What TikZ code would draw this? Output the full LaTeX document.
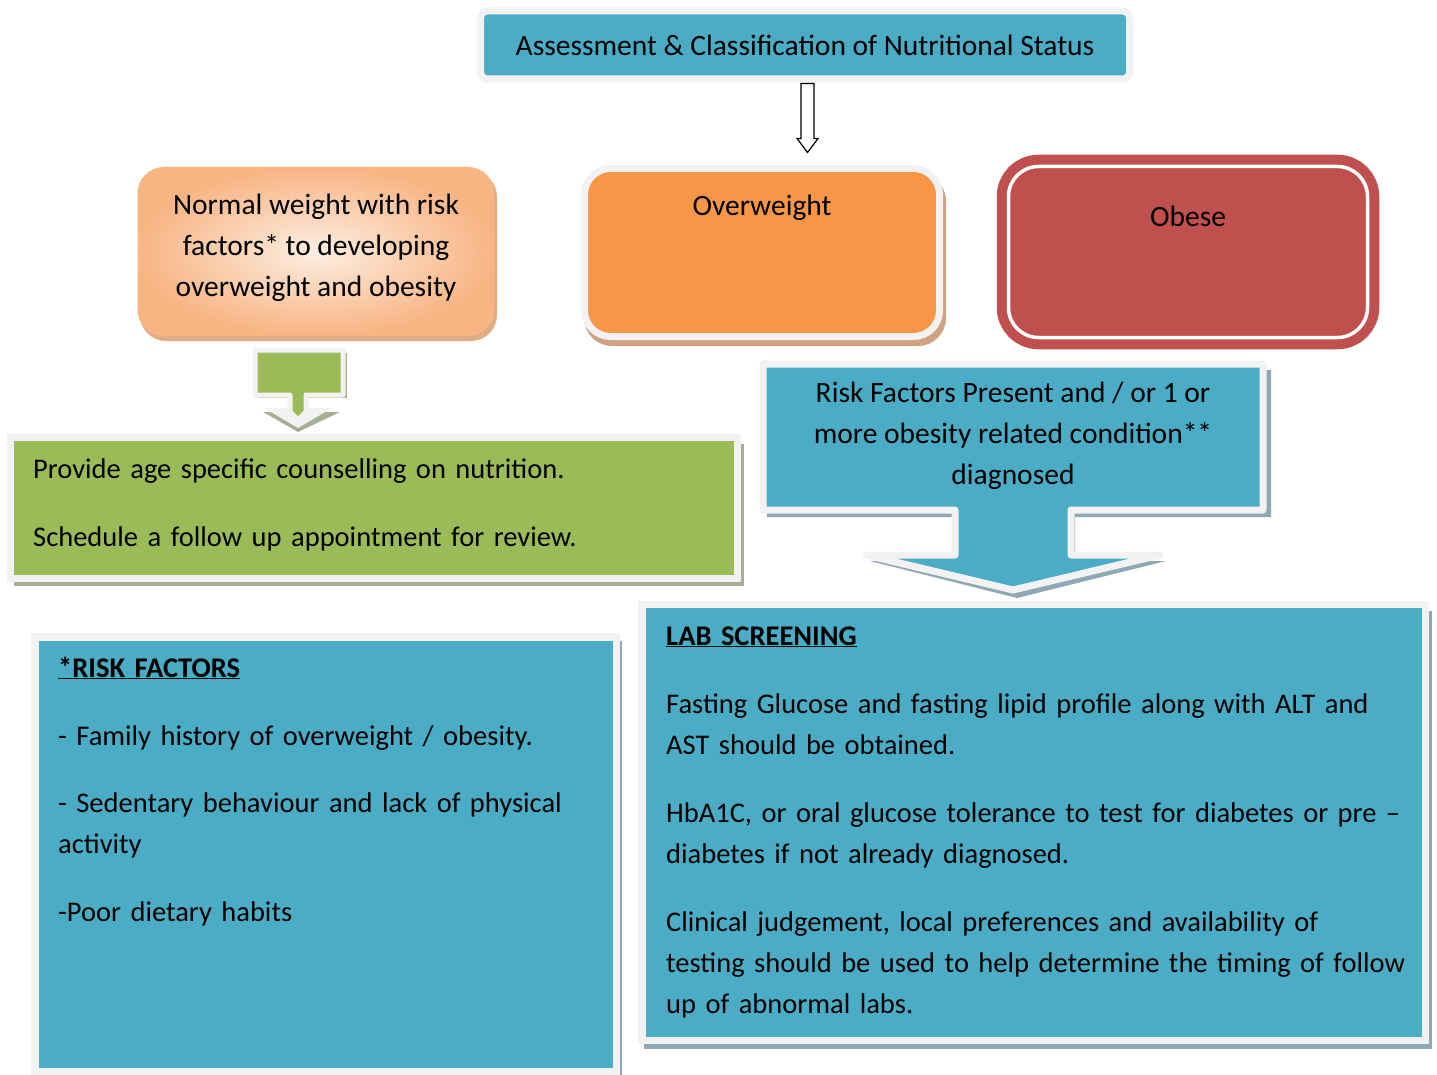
\documentclass[tikz,border=0pt]{standalone}
\usepackage{fontspec}
\setmainfont{Carlito}
\usetikzlibrary{calc}
\definecolor{cteal}{HTML}{4BACC6}
\definecolor{cgreen}{HTML}{9BBB59}
\definecolor{corange}{HTML}{F79646}
\definecolor{cred}{HTML}{C0504D}
\definecolor{cgray}{HTML}{F2F2F2}
\definecolor{cpeach}{HTML}{F8B584}
\definecolor{cpeachin}{HTML}{FDEEE2}
\definecolor{cpeachsh}{HTML}{E2AC82}
\definecolor{cowsh}{HTML}{CFA382}
\definecolor{cbluesh}{HTML}{8EA9B4}
\definecolor{cgreensh}{HTML}{A6AF93}
\begin{document}
\begin{tikzpicture}[x=1pt,y=-1pt,
  txt/.style={font=\fontsize{28.5}{41}\selectfont, inner sep=0pt, text=black},
  ltxt/.style={txt, align=left, anchor=base west},
  ctxt/.style={font=\fontsize{29.5}{41}\selectfont, inner sep=0pt, text=black, align=center},
  frame/.style={draw=cgray, line width=7pt, inner sep=0pt}]
\path[use as bounding box] (0,0) rectangle (1437,1075);
\fill[white] (0,0) rectangle (1437,1075);

% ---------- top box
\node[frame, fill=cteal, rounded corners=7pt, minimum width=649pt, minimum height=68pt] (top) at (805,45) {};
\node[ctxt] (toptxt) at (805,45) {Assessment \& Classification of Nutritional Status};

% ---------- normal weight box
\fill[cpeachsh, rounded corners=26pt] (140,171) rectangle (497,341);
\node[rounded corners=26pt, minimum width=356pt, minimum height=168pt, inner sep=0pt,
      inner color=cpeachin, outer color=cpeach, draw=cpeach, line width=1pt] (nw) at (316,251.5) {};
\node[ctxt] (nwtxt) at (316,248) {Normal weight with risk\\factors* to developing\\overweight and obesity};

% ---------- overweight box
\fill[cowsh, rounded corners=28pt] (584,173) rectangle (946,346);
\node[frame, fill=corange, rounded corners=26pt, minimum width=355pt, minimum height=168pt] (ow) at (762,252.5) {};
\node[ctxt] (owtxt) at (762,208) {Overweight};

% ---------- obese box
\node[fill=cred, draw=cred, double=white, double distance=3.5pt, line width=10pt,
      rounded corners=30pt, minimum width=359pt, minimum height=171pt, inner sep=0pt] (ob) at (1188,252) {};
\node[ctxt] (obtxt) at (1188,216) {Obese};

% ---------- green box
\fill[cgreensh] (14,444) rectangle (744,586);
\node[frame, fill=cgreen, minimum width=727pt, minimum height=141pt] (gb) at (374,507.5) {};
\node[ltxt, text width=700pt] (gbtxt) at (33,478) {Provide age specific counselling on nutrition.\\[27pt]Schedule a follow up appointment for review.};

% ---------- green down callout
\coordinate (ga) at ($(nw.south)+(-18,0)$);
\begin{scope}[shift={(ga)}]
  \fill[cgreensh] (-35,76) -- (42,76) -- (0,96) -- cycle;
  \fill[cgray] (-34,72) -- (34,72) -- (0,92) -- cycle;
  \fill[cgreensh] (-40,17) rectangle (49,62);
  \draw[draw=cgray, line width=5pt, fill=cgreen, line join=round]
     (-43,14) -- (45,14) -- (45,59) -- (8,59) -- (8,76) -- (0,84) -- (-8,76) -- (-8,59) -- (-43,59) -- cycle;
\end{scope}

% ---------- risk present callout
\begin{scope}[shift={(1013,364)}]
  \fill[cbluesh, line join=round] (-246,6) -- (258,6) -- (258,153) -- (62,153) -- (62,197) -- (153,197) -- (4,234) -- (-143,197) -- (-54,197) -- (-54,153) -- (-246,153) -- cycle;
  \draw[draw=cgray, line width=7pt, fill=cteal, line join=round]
     (-250,0) -- (250,0) -- (250,146) -- (58,146) -- (58,191) -- (147,191) -- (0,226) -- (-147,191) -- (-58,191) -- (-58,146) -- (-250,146) -- cycle;
  \coordinate (rf) at (0,73);
\end{scope}
\node[ctxt] (rftxt) at (1013,436) {Risk Factors Present and / or 1 or\\more obesity related condition**\\diagnosed};

% ---------- risk factors box
\fill[cbluesh] (40,641) rectangle (622,1075);
\node[frame, line width=7.5pt, fill=cteal, minimum width=581.5pt, minimum height=434.5pt] (rk) at (325.75,854.25) {};
\node[ltxt, text width=600pt] (rktxt) at (58,677) {\underline{\textbf{*RISK FACTORS}}\\[27pt]- Family history of overweight / obesity.\\[26pt]- Sedentary behaviour and lack of physical\\activity\\[27pt]-Poor dietary habits};

% ---------- lab screening box
\fill[cbluesh] (644,611) rectangle (1432,1049);
\node[frame, line width=7.5pt, fill=cteal, minimum width=783.5pt, minimum height=436pt] (lb) at (1033.75,822.5) {};
\node[ltxt, text width=770pt] (lbtxt) at (666,645) {\underline{\textbf{LAB SCREENING}}\\[27pt]Fasting Glucose and fasting lipid profile along with ALT and\\AST should be obtained.\\[27pt]HbA1C, or oral glucose tolerance to test for diabetes or pre –\\diabetes if not already diagnosed.\\[27pt]Clinical judgement, local preferences and availability of\\testing should be used to help determine the timing of follow\\up of abnormal labs.};

% ---------- hollow arrow top -> overweight row
\coordinate (ha) at ($(top.south)+(2.5,0)$);
\coordinate (hatip) at ($(ha |- ow.north)+(0,-12.5)$);
\draw[line width=1.2pt, fill=white, line join=miter]
  ($(ha)+(-6.5,1)$) -- ($(ha)+(-6.5,56)$) -- ($(ha)+(-10.5,56)$) -- (hatip)
  -- ($(ha)+(10.5,56)$) -- ($(ha)+(6.5,56)$) -- ($(ha)+(6.5,1)$) -- cycle;
\end{tikzpicture}
\end{document}
